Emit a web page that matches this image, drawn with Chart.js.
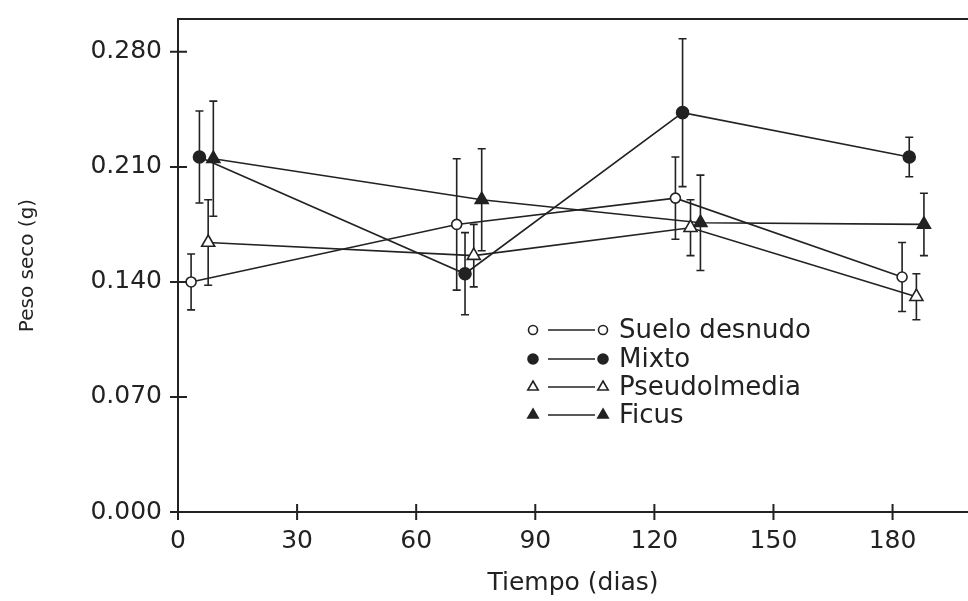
<!DOCTYPE html>
<html>
<head>
<meta charset="utf-8">
<script src="https://cdn.jsdelivr.net/npm/chart.js@4.4.0/dist/chart.umd.min.js"></script>
<style>
  html, body { margin: 0; padding: 0; background: #fff; }
  #wrap { width: 968px; height: 601px; position: relative; }
</style>
</head>
<body>
<div id="wrap"><canvas id="peso-seco"></canvas></div>
<script>
// series (days are slightly staggered per treatment)
var seriesNames = ["Suelo desnudo", "Mixto", "Pseudolmedia", "Ficus"];

var sueloDias = [3.3, 70.2, 125.3, 182.4];
var sueloPeso = [0.140, 0.175, 0.191, 0.143];
var sueloErr  = [0.017, 0.040, 0.025, 0.021];

var mixtoDias = [5.4, 72.3, 127.1, 184.2];
var mixtoPeso = [0.216, 0.145, 0.243, 0.216];
var mixtoErr  = [0.028, 0.025, 0.045, 0.012];

var pseudoDias = [7.6, 74.5, 129.1, 186.0];
var pseudoPeso = [0.164, 0.156, 0.173, 0.131];
var pseudoErr  = [0.026, 0.019, 0.017, 0.014];

var ficusDias = [8.9, 76.5, 131.6, 187.9];
var ficusPeso = [0.215, 0.190, 0.176, 0.175];
var ficusErr  = [0.035, 0.031, 0.029, 0.019];

var xTicks = [0, 30, 60, 90, 120, 150, 180];
var yTicks = [0.000, 0.070, 0.140, 0.210, 0.280];

var INK = "#222";
var FONT = "'DejaVu Sans', sans-serif";

function pts(xs, ys) {
    var out = [];
    for (let i = 0; i < xs.length; i++) out.push({x: xs[i], y: ys[i]});
    return out;
}

function makeSet(label, xs, ys, errs, style, fill, radius) {
    return {
        label: label,
        data: pts(xs, ys),
        errs: errs,
        borderColor: INK,
        borderWidth: 1.6,
        pointStyle: style,
        pointRadius: radius,
        pointBackgroundColor: fill,
        pointBorderColor: INK,
        pointBorderWidth: 1.6,
        tension: 0,
        fill: false
    };
}

var datasets = [
    makeSet(seriesNames[0], sueloDias, sueloPeso, sueloErr, "circle", "#fff", 5),
    makeSet(seriesNames[1], mixtoDias, mixtoPeso, mixtoErr, "circle", INK, 6),
    makeSet(seriesNames[2], pseudoDias, pseudoPeso, pseudoErr, "triangle", "#fff", 7.5),
    makeSet(seriesNames[3], ficusDias, ficusPeso, ficusErr, "triangle", INK, 7.5)
];

// error bars, frame top line, crossing tick marks and the inset legend
var extras = {
    id: "extras",
    beforeDatasetsDraw: function (chart) {
        var ctx = chart.ctx, xs = chart.scales.x, ys = chart.scales.y;
        ctx.save();
        ctx.strokeStyle = INK;
        ctx.lineWidth = 1.6;
        chart.data.datasets.forEach(function (ds) {
            ds.data.forEach(function (p, i) {
                var px = xs.getPixelForValue(p.x);
                var top = ys.getPixelForValue(p.y + ds.errs[i]);
                var bot = ys.getPixelForValue(p.y - ds.errs[i]);
                ctx.beginPath();
                ctx.moveTo(px, top); ctx.lineTo(px, bot);
                ctx.moveTo(px - 4, top); ctx.lineTo(px + 4, top);
                ctx.moveTo(px - 4, bot); ctx.lineTo(px + 4, bot);
                ctx.stroke();
            });
        });
        ctx.restore();
    },
    afterDraw: function (chart) {
        var ctx = chart.ctx, a = chart.chartArea;
        var xs = chart.scales.x, ys = chart.scales.y;
        ctx.save();
        ctx.strokeStyle = INK;
        ctx.lineWidth = 2;
        ctx.beginPath();
        ctx.moveTo(a.left, a.top); ctx.lineTo(a.right, a.top);
        xTicks.forEach(function (t) {
            var px = xs.getPixelForValue(t);
            ctx.moveTo(px, a.bottom - 8); ctx.lineTo(px, a.bottom + 8);
        });
        yTicks.forEach(function (t) {
            var py = ys.getPixelForValue(t);
            ctx.moveTo(a.left - 8, py); ctx.lineTo(a.left + 9, py);
        });
        ctx.stroke();

        // legend
        var rowsY = [330, 359, 387, 415];
        var legRadius = [4.5, 5, 6, 6];
        ctx.font = "26px " + FONT;
        ctx.textBaseline = "middle";
        ctx.textAlign = "left";
        chart.data.datasets.forEach(function (ds, i) {
            var y = rowsY[i];
            ctx.strokeStyle = INK;
            ctx.lineWidth = 1.6;
            ctx.beginPath();
            ctx.moveTo(548, y); ctx.lineTo(595, y);
            ctx.stroke();
            [533, 603].forEach(function (sx) {
                ctx.fillStyle = ds.pointBackgroundColor;
                ctx.strokeStyle = INK;
                ctx.lineWidth = 1.6;
                Chart.helpers.drawPoint(ctx, {pointStyle: ds.pointStyle, radius: legRadius[i], rotation: 0, borderWidth: 1.6}, sx, y);
            });
            ctx.fillStyle = INK;
            ctx.fillText(ds.label, 619, y + 1);
        });
        ctx.restore();
    }
};

var ctx1 = document.getElementById("peso-seco").getContext("2d");
var myChart = new Chart(ctx1, {
    type: "line",
    data: { datasets: datasets },
    options: {
        responsive: true,
        maintainAspectRatio: false,
        animation: false,
        layout: { autoPadding: false, padding: { top: 19, right: 0, left: 0, bottom: 0 } },
        plugins: {
            legend: { display: false },
            tooltip: { enabled: false }
        },
        scales: {
            x: {
                type: "linear",
                min: 0,
                max: 199,
                afterFit: function (s) { s.height = 89; s.paddingLeft = 0; s.paddingRight = 0; },
                afterBuildTicks: function (s) { s.ticks = xTicks.map(function (v) { return {value: v}; }); },
                grid: { display: false, drawTicks: false },
                border: { display: true, color: INK, width: 2 },
                ticks: {
                    autoSkip: false,
                    maxRotation: 0,
                    padding: 14,
                    color: INK,
                    font: { family: FONT, size: 25 }
                },
                title: {
                    display: true,
                    text: "Tiempo (dias)",
                    color: INK,
                    font: { family: FONT, size: 25 },
                    padding: { top: 0, bottom: 3 }
                }
            },
            y: {
                min: 0,
                max: 0.30,
                afterFit: function (s) { s.width = 178; s.paddingTop = 0; s.paddingBottom = 0; },
                afterBuildTicks: function (s) { s.ticks = yTicks.map(function (v) { return {value: v}; }); },
                grid: { display: false, drawTicks: false },
                border: { display: true, color: INK, width: 2 },
                ticks: {
                    padding: 16,
                    color: INK,
                    font: { family: FONT, size: 25 },
                    callback: function (v) { return Number(v).toFixed(3); }
                },
                title: {
                    display: true,
                    text: "Peso seco (g)",
                    color: INK,
                    font: { family: FONT, size: 20 },
                    padding: { top: 16, bottom: 0 }
                }
            }
        }
    },
    plugins: [extras]
});
</script>
</body>
</html>
